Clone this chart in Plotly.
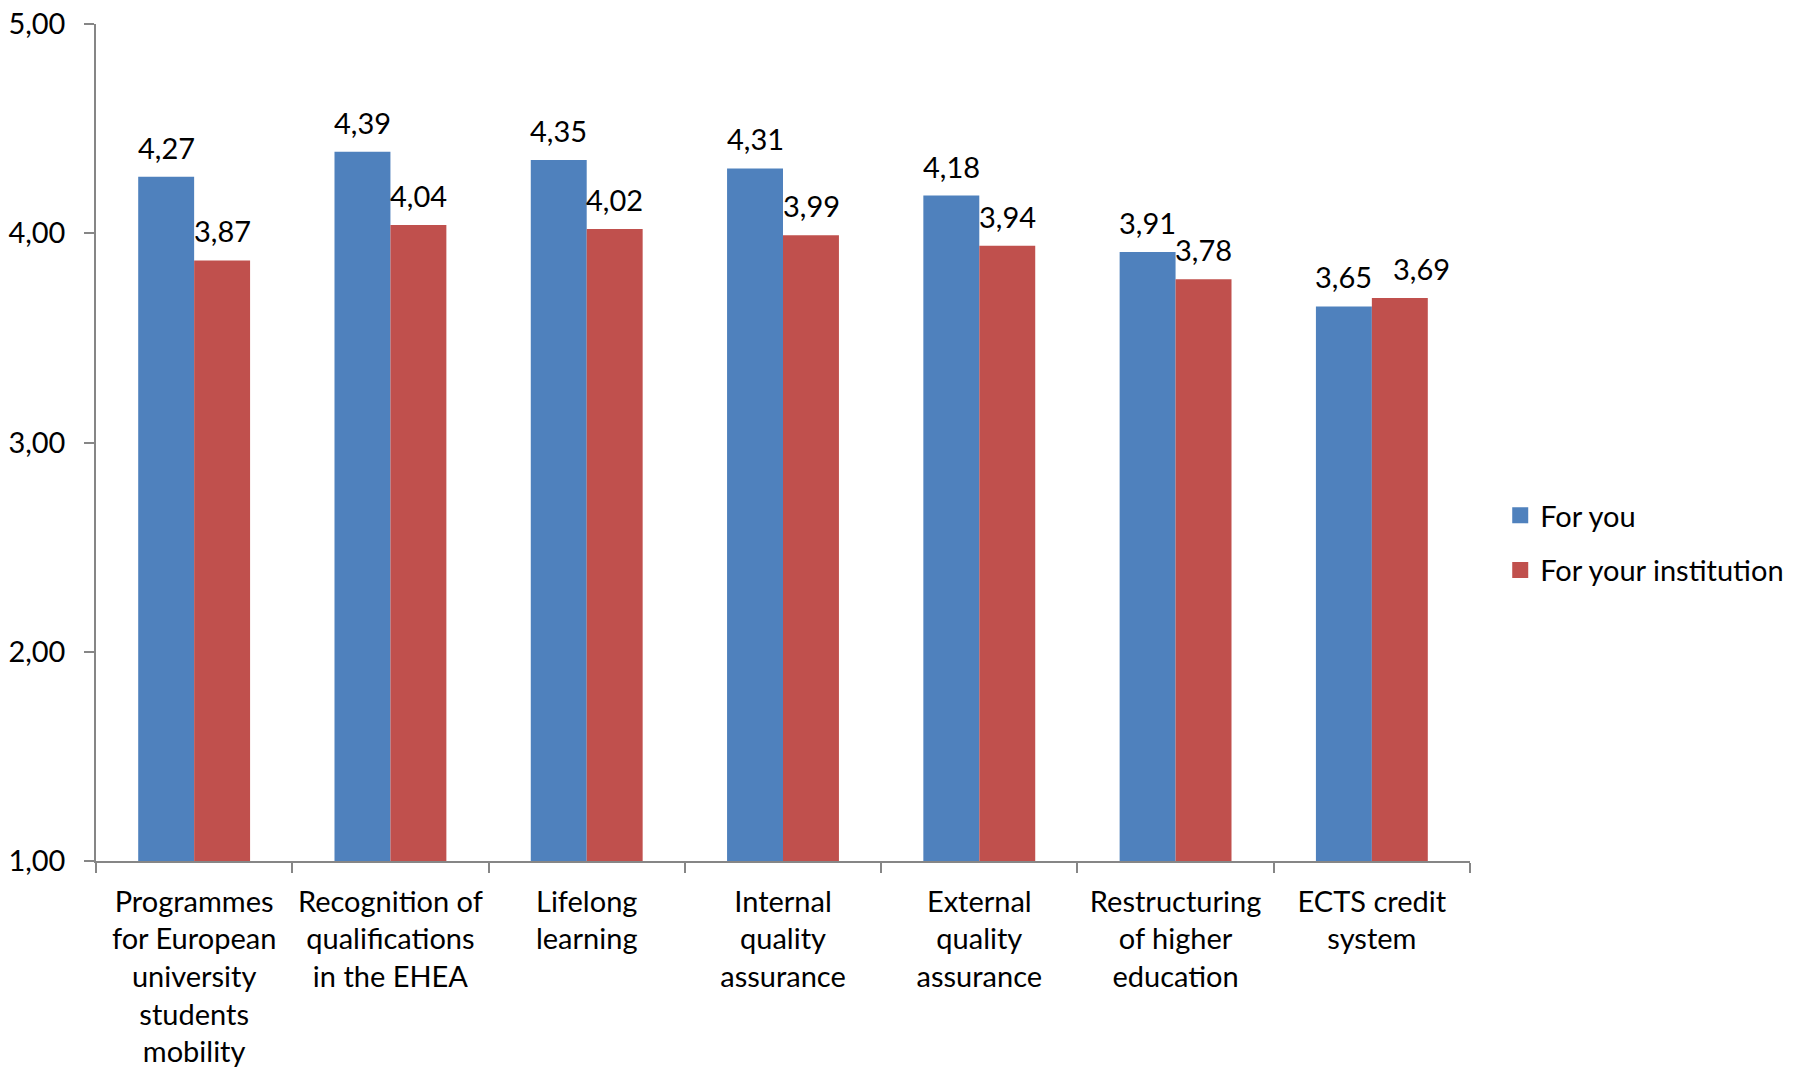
import plotly.graph_objects as go

categories = [
    "Programmes<br>for European<br>university<br>students<br>mobility",
    "Recognition of<br>qualifications<br>in the EHEA",
    "Lifelong<br>learning",
    "Internal<br>quality<br>assurance",
    "External<br>quality<br>assurance",
    "Restructuring<br>of higher<br>education",
    "ECTS credit<br>system",
]
for_you = [4.27, 4.39, 4.35, 4.31, 4.18, 3.91, 3.65]
for_institution = [3.87, 4.04, 4.02, 3.99, 3.94, 3.78, 3.69]
y_ticks = [1, 2, 3, 4, 5]

FONT = "Lato"
FS = 29
BLUE, RED = "#4F81BD", "#C0504D"
fig = go.Figure()
fig.add_trace(go.Bar(
    x=categories, y=for_you, name="For you", showlegend=False,
    marker=dict(color=BLUE, line=dict(width=0)),
))
fig.add_trace(go.Bar(
    x=categories, y=for_institution, name="For your institution", showlegend=False,
    marker=dict(color=RED, line=dict(width=0)),
))
# legend entries with larger square swatches
for name, col, grp in (("For you", BLUE, "a"), ("For your institution", RED, "b")):
    fig.add_trace(go.Scatter(
        x=[None], y=[None], mode="markers", name=name, legendgroup=grp,
        marker=dict(symbol="square", size=16, color=col),
    ))

# data labels above bars
for series, shift in ((for_you, -28), (for_institution, 28)):
    for i, (cat, val) in enumerate(zip(categories, series)):
        extra = 22 if (shift > 0 and i == len(categories) - 1) else 0
        fig.add_annotation(
            x=cat, y=val, xref="x", yref="y", text=f"{val:.2f}".replace(".", ","),
            showarrow=False, xanchor="center", yanchor="bottom",
            xshift=shift + extra, yshift=10,
            font=dict(family=FONT, size=FS, color="black"),
        )

fig.update_layout(
    width=1794, height=1072,
    margin=dict(l=96, r=324, t=24, b=211, autoexpand=False),
    plot_bgcolor="white", paper_bgcolor="white",
    barmode="group", bargap=0.43, bargroupgap=0,
    separators=",.",
    font=dict(family=FONT, size=FS, color="black"),
    showlegend=True,
    legend=dict(x=1.022, y=0.38, xanchor="left", yanchor="middle",
                font=dict(family=FONT, size=FS, color="black"),
                tracegroupgap=14, itemsizing="trace"),
)
fig.update_yaxes(
    range=[1, 5], tickvals=y_ticks, tickformat=".2f",
    showgrid=False, zeroline=False, automargin=False,
    showline=True, linecolor="#868686", linewidth=1.5,
    ticks="outside", ticklen=10, tickcolor="#868686", tickwidth=1.5,
    ticklabelstandoff=13,
    tickfont=dict(family=FONT, size=FS, color="black"),
)
fig.update_xaxes(
    showgrid=False, showline=True, linecolor="#868686", linewidth=1.5,
    ticks="outside", ticklen=10, tickcolor="#868686", tickwidth=1.5,
    tickson="boundaries", ticklabelstandoff=14, tickangle=0, automargin=False,
    tickfont=dict(family=FONT, size=FS, color="black"),
)

fig.write_html("out.html")
